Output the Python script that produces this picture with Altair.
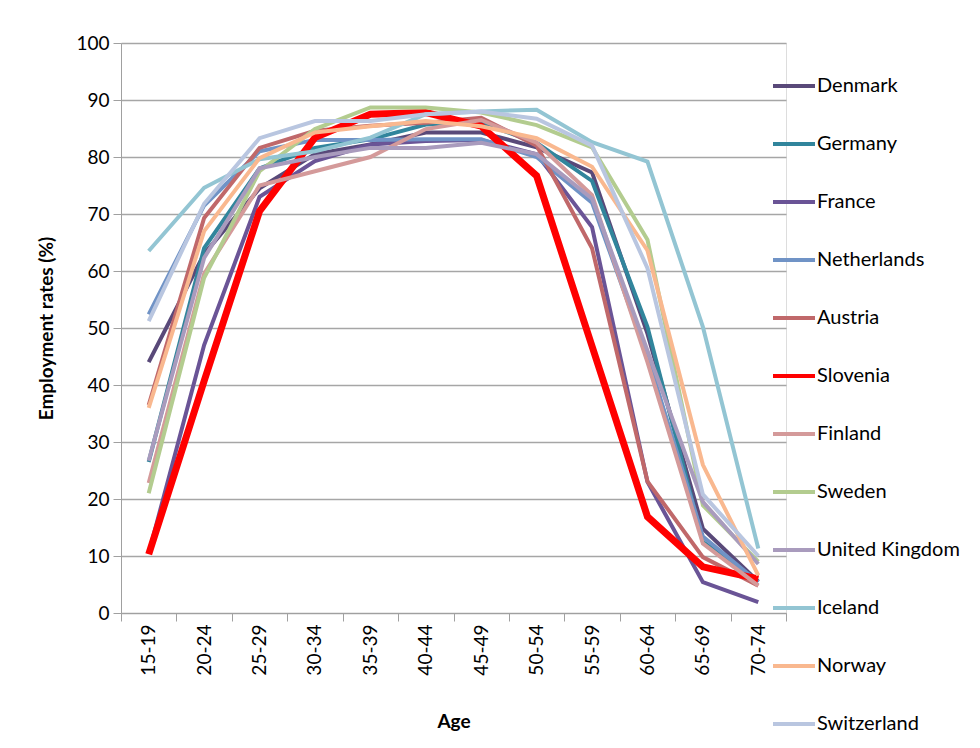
import altair as alt
import pandas as pd

ages = ["15-19", "20-24", "25-29", "30-34", "35-39", "40-44",
        "45-49", "50-54", "55-59", "60-64", "65-69", "70-74"]

countries = ["Denmark", "Germany", "France", "Netherlands", "Austria", "Slovenia",
             "Finland", "Sweden", "United Kingdom", "Iceland", "Norway", "Switzerland"]

denmark = [44.0, 63.0, 74.5, 80.5, 82.2, 84.3, 84.3, 81.7, 77.3, 49.0, 14.8, 5.5]
germany = [26.5, 64.0, 78.0, 81.6, 83.1, 85.7, 86.0, 82.5, 75.8, 50.2, 12.5, 5.5]
france = [10.5, 47.0, 73.0, 79.3, 82.2, 82.8, 83.0, 80.5, 67.7, 23.0, 5.4, 1.9]
netherlands = [52.4, 71.5, 81.0, 83.0, 83.0, 83.1, 83.1, 80.0, 72.0, 45.0, 13.4, 5.4]
austria = [36.5, 69.3, 81.6, 84.6, 85.5, 86.0, 86.9, 82.0, 64.0, 23.1, 9.8, 4.8]
slovenia = [10.3, 40.7, 70.5, 83.4, 87.5, 87.8, 85.4, 76.7, 46.8, 16.9, 8.1, 6.0]
finland = [22.8, 59.5, 75.0, 77.5, 80.0, 84.9, 86.5, 82.5, 73.3, 44.0, 12.2, 4.8]
sweden = [21.0, 58.8, 77.5, 84.9, 88.7, 88.7, 87.8, 85.6, 81.7, 65.5, 18.9, 9.0]
uk = [26.7, 62.3, 78.0, 80.0, 81.6, 81.6, 82.5, 80.5, 72.7, 46.0, 19.5, 8.6]
iceland = [63.5, 74.6, 79.6, 81.0, 83.4, 87.5, 88.0, 88.3, 82.6, 79.2, 50.2, 11.3]
norway = [36.0, 67.0, 79.8, 84.3, 85.4, 86.3, 85.4, 83.3, 78.3, 63.6, 26.0, 6.6]
switzerland = [51.2, 71.8, 83.3, 86.3, 86.3, 87.5, 88.0, 86.7, 82.0, 60.5, 20.8, 10.0]

series = [denmark, germany, france, netherlands, austria, slovenia,
          finland, sweden, uk, iceland, norway, switzerland]

colors = ["#594979", "#31859C", "#6A5496", "#7093C6", "#C0686A", "#FF0000",
          "#D49A9A", "#B3CC8F", "#A99BBD", "#93C5D3", "#F9B88F", "#B9C6E0"]
widths = [4, 4, 4, 4, 4, 7, 4, 4, 4, 4, 4, 4]

rows = []
for ci, (c, vals, w) in enumerate(zip(countries, series, widths)):
    for a, v in zip(ages, vals):
        rows.append({"country": c, "age": a, "rate": v, "order": ci, "w": w})
df = pd.DataFrame(rows)

FONT = "Lato"

chart = alt.Chart(df).mark_line(strokeJoin="miter").encode(
    x=alt.X("age:N", sort=ages, bandPosition=0.5,
            scale=alt.Scale(type="band", paddingInner=0, paddingOuter=0),
            axis=alt.Axis(title="Age", labelAngle=-90, tickBand="extent",
                          labelFontSize=19, titleFontSize=19, titleFontWeight="bold",
                          labelColor="black", titleColor="black", domainColor="#a0a0a0",
                          tickColor="#a0a0a0", tickSize=8, labelPadding=3,
                          titlePadding=37, grid=False, labelFont=FONT, titleFont=FONT)),
    y=alt.Y("rate:Q", scale=alt.Scale(domain=[0, 100], nice=False),
            axis=alt.Axis(title="Employment rates (%)", values=list(range(0, 101, 10)),
                          labelFontSize=19, titleFontSize=19, titleFontWeight="bold",
                          labelColor="black", titleColor="black", domainColor="#a0a0a0",
                          tickColor="#a0a0a0", tickSize=8, labelPadding=4,
                          titlePadding=19, gridColor="#a6a6a6", gridWidth=1.5,
                          labelFont=FONT, titleFont=FONT)),
    color=alt.Color("country:N", sort=countries,
                    scale=alt.Scale(domain=countries, range=colors),
                    legend=alt.Legend(title=None, orient="none", legendX=650, legendY=20,
                                      symbolType="stroke", symbolSize=1764,
                                      symbolStrokeWidth=4, labelFontSize=20,
                                      labelFont=FONT, labelColor="black",
                                      rowPadding=25, labelOffset=0)),
    strokeWidth=alt.StrokeWidth("w:Q", scale=None, legend=None),
    order=alt.Order("order:Q"),
).properties(
    width=665, height=570,
    padding={"left": 29, "top": 26, "right": 2, "bottom": 2},
).configure_view(stroke=None).configure(background="white")

chart.save("out.html", embed_options={"renderer": "svg", "actions": False})
